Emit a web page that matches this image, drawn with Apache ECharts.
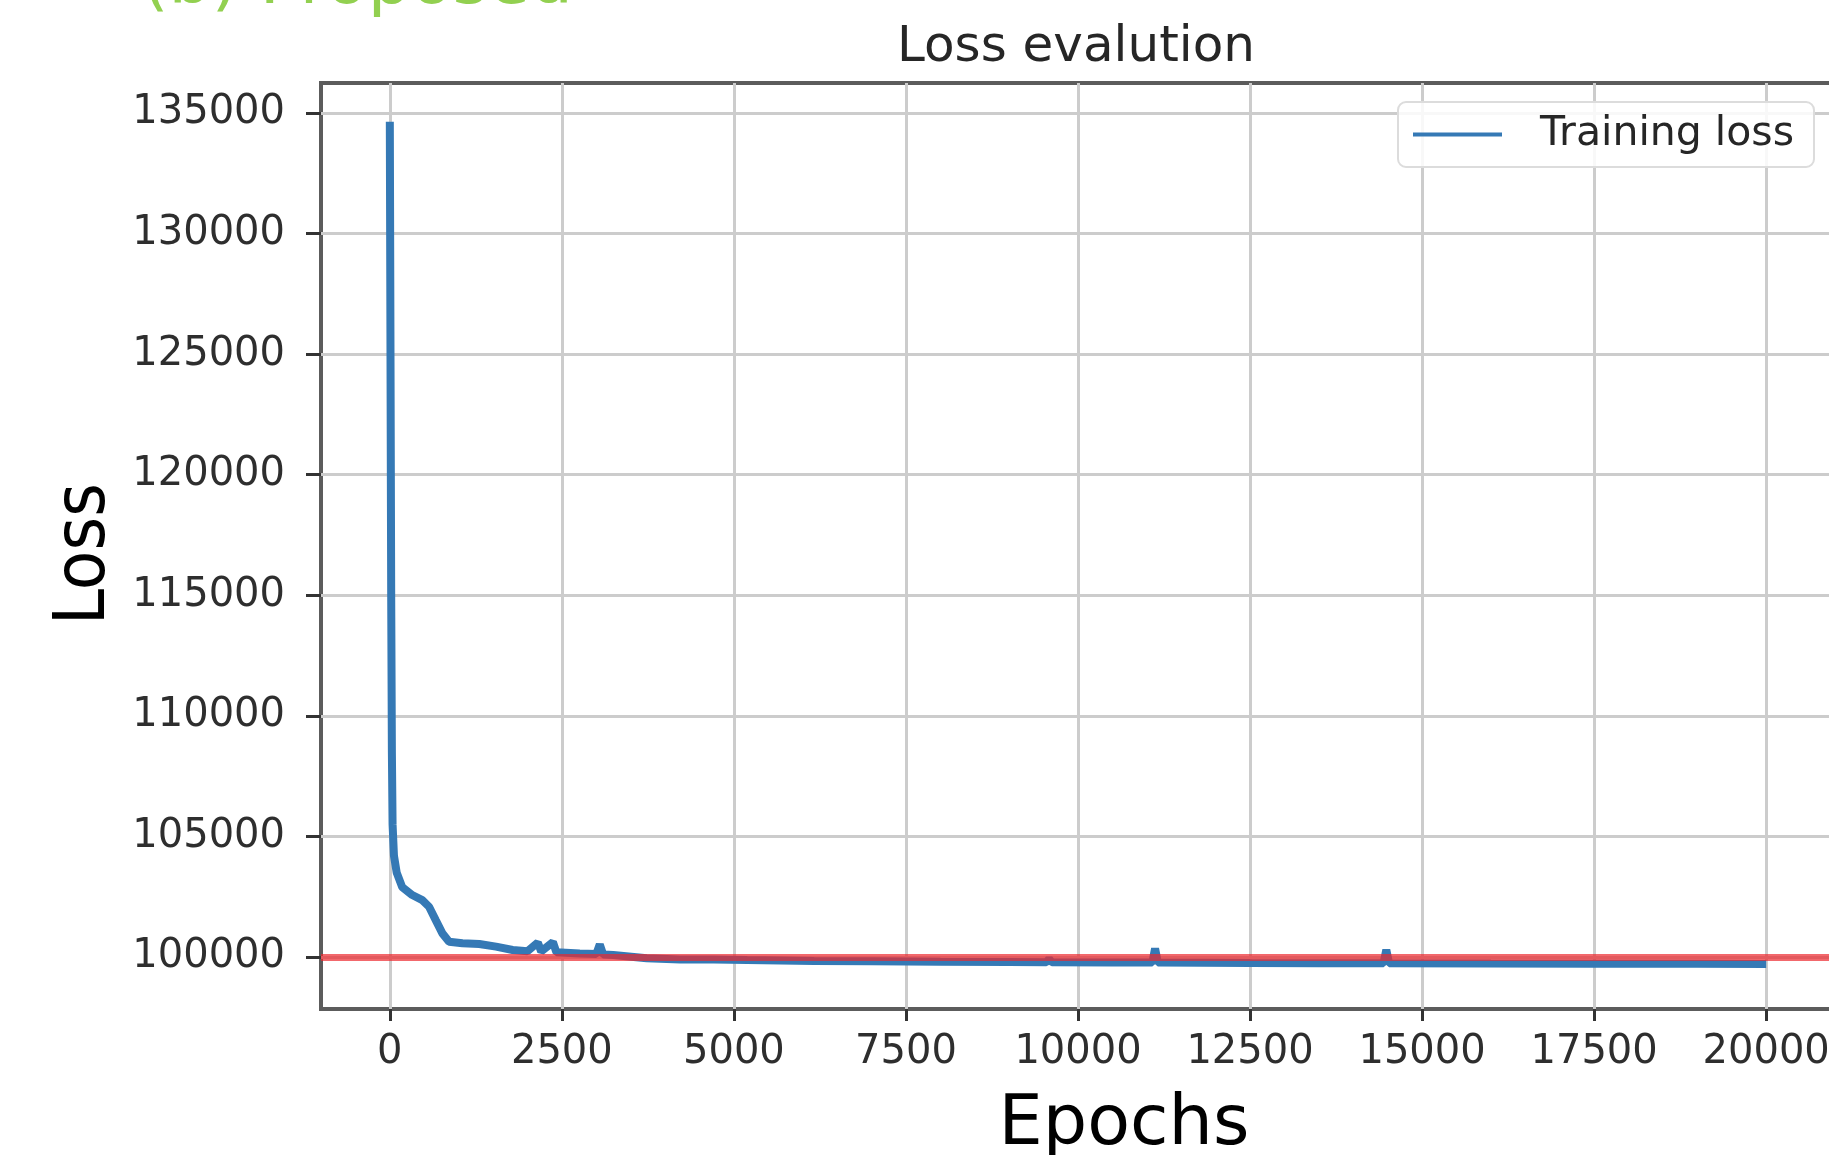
<!DOCTYPE html>
<html>
<head>
<meta charset="utf-8">
<script src="https://cdn.jsdelivr.net/npm/echarts@6/dist/echarts.min.js"></script>
<style>
  html, body { margin: 0; padding: 0; background: #fff; }
  #chart { width: 1829px; height: 1155px; }
</style>
</head>
<body>
<div id="chart"></div>
<script>
// data
var epochs = [0, 20, 30, 40, 60, 100, 180, 326, 472, 570, 667, 764, 861, 1056, 1300, 1543, 1786, 2000,
  2151, 2200, 2370, 2420, 2760, 3000, 3051, 3100, 3246, 3733, 4219, 4706, 5193, 6166, 7000, 8000,
  9000, 9540, 9580, 9620, 10500, 11080, 11120, 11160, 12500, 13500, 14440, 14480, 14520, 16000, 17500, 19000, 20000];
var lossValues = [134640, 115000, 108500, 105500, 104200, 103500, 102900, 102570, 102360, 102085, 101530, 100980, 100635, 100570, 100540, 100430, 100290, 100240,
  100600, 100230, 100620, 100200, 100150, 100120, 100520, 100100, 100080, 99945, 99900, 99900, 99875, 99835, 99820, 99800,
  99790, 99780, 99920, 99780, 99770, 99770, 100350, 99770, 99750, 99745, 99740, 100300, 99740, 99730, 99725, 99720, 99715];
var refLevel = 100000;
var xTicks = [0, 2500, 5000, 7500, 10000, 12500, 15000, 17500, 20000];
var yTicks = [100000, 105000, 110000, 115000, 120000, 125000, 130000, 135000];

var chart = echarts.init(document.getElementById('chart'));

var points = epochs.map(function (e, i) { return [e, lossValues[i]]; });

var option = {
  backgroundColor: '#fff',
  animation: false,
  title: [
    {
      // heading of the figure panel, cut off at the top edge
      text: '(b) Proposed',
      left: 142,
      top: -49,
      padding: 0,
      textStyle: { fontFamily: 'DejaVu Sans', fontSize: 68, fontWeight: 'normal', color: '#92d050' }
    },
    {
      text: 'Loss evalution',
      left: 1076,
      top: 23,
      padding: 0,
      textAlign: 'center',
      textStyle: { fontFamily: 'DejaVu Sans', fontSize: 50, fontWeight: 'normal', color: '#262626' }
    }
  ],
  legend: {
    data: [{ name: 'Training loss', icon: 'path://M0,0 L89,0 L89,4 L0,4 Z' }],
    left: 1398,
    top: 102,
    padding: [12, 20, 12, 15],
    itemWidth: 89,
    itemHeight: 4,
    backgroundColor: 'rgba(255,255,255,0.85)',
    borderColor: '#dcdcdc',
    borderWidth: 2,
    borderRadius: 8,
    textStyle: { fontFamily: 'DejaVu Sans', fontSize: 41, color: '#262626', padding: [0, 0, 0, 33] }
  },
  grid: {
    left: 321,
    top: 83,
    width: 1514,
    height: 926,
    outerBoundsMode: 'none',
    containLabel: false,
    show: true,
    borderColor: '#5c5c5c',
    borderWidth: 4
  },
  xAxis: {
    type: 'value',
    min: -1000,
    max: 21000,
    name: 'Epochs',
    nameLocation: 'middle',
    nameGap: 82,
    nameMoveOverlap: false,
    nameTextStyle: { fontFamily: 'DejaVu Sans', fontSize: 70, color: '#000', padding: [0, 0, 0, 92] },
    axisLine: { show: false, onZero: false },
    axisTick: { show: true, customValues: xTicks, length: 12, lineStyle: { color: '#333', width: 3 } },
    axisLabel: {
      customValues: xTicks, margin: 24, fontFamily: 'DejaVu Sans', fontSize: 40, color: '#2e2e2e',
      formatter: function (v) { return String(v); }
    },
    splitLine: { show: true, lineStyle: { color: '#cccccc', width: 3 } }
  },
  yAxis: {
    type: 'value',
    min: 97844,
    max: 136244,
    name: 'Loss',
    nameLocation: 'middle',
    nameRotate: 90,
    nameGap: 200,
    nameMoveOverlap: false,
    nameTextStyle: {
      fontFamily: "'DejaVu Sans Condensed', 'DejaVu Sans'", fontSize: 72, color: '#000',
      padding: [0, 16, 0, 0]
    },
    axisLine: { show: false, onZero: false },
    axisTick: { show: true, customValues: yTicks, length: 15, lineStyle: { color: '#333', width: 3 } },
    axisLabel: {
      customValues: yTicks, margin: 36, fontFamily: 'DejaVu Sans', fontSize: 40, color: '#2e2e2e',
      formatter: function (v) { return String(v); }
    },
    splitLine: { show: true, lineStyle: { color: '#cccccc', width: 3 } }
  },
  series: [{
    name: 'Training loss',
    type: 'line',
    data: points,
    symbol: 'none',
    color: '#3579b5',
    lineStyle: { color: '#3579b5', width: 8 },
    markLine: {
      silent: true,
      symbol: 'none',
      label: { show: false },
      lineStyle: { color: 'rgba(236,40,46,0.7)', width: 7, type: 'solid' },
      data: [{ yAxis: refLevel }]
    }
  }]
};

chart.setOption(option);
</script>
</body>
</html>
